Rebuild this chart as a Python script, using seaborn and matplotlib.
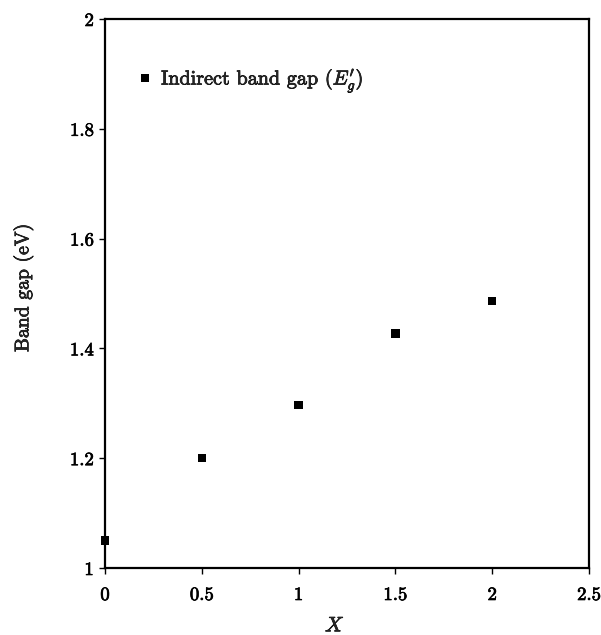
import matplotlib
matplotlib.use("Agg")
import matplotlib.pyplot as plt
import matplotlib.patheffects as pe
import seaborn as sns
import pandas as pd

# Composition and indirect band gap values
x_vals = [0.0, 0.5, 1.0, 1.5, 2.0]
gap_vals = [1.05, 1.20, 1.297, 1.427, 1.486]
series_label = r"Indirect band gap ($E_g'$)"

x_ticks = [0, 0.5, 1, 1.5, 2, 2.5]
x_tick_labels = ["0", "0.5", "1", "1.5", "2", "2.5"]
y_ticks = [1, 1.2, 1.4, 1.6, 1.8, 2]
y_tick_labels = ["1", "1.2", "1.4", "1.6", "1.8", "2"]

df = pd.DataFrame({"X": x_vals, "gap": gap_vals, "series": series_label})

sns.set_theme(style="ticks")
plt.rcParams["font.family"] = ["cmr10", "DejaVu Serif"]
plt.rcParams["mathtext.fontset"] = "cm"
plt.rcParams["axes.formatter.use_mathtext"] = True

# slightly heavier strokes on the Computer Modern glyphs
heavy = [pe.withStroke(linewidth=0.5, foreground="black")]

fig = plt.figure(figsize=(6.01, 6.35), dpi=100)
ax = fig.add_axes([105 / 601, 1 - 568 / 635, (589 - 105) / 601, (568 - 19) / 635])

sns.scatterplot(data=df, x="X", y="gap", hue="series", palette=["black"],
                marker="s", s=36, edgecolor="black", linewidth=0, ax=ax,
                clip_on=False, zorder=5)

ax.set_xlim(0, 2.5)
ax.set_ylim(1, 2)
ax.set_xticks(x_ticks)
ax.set_xticklabels(x_tick_labels)
ax.set_yticks(y_ticks)
ax.set_yticklabels(y_tick_labels)
ax.tick_params(direction="out", length=4, width=1, labelsize=13.5, colors="black")
ax.tick_params(axis="x", pad=9)
ax.tick_params(axis="y", pad=4)
for lab in ax.get_xticklabels() + ax.get_yticklabels():
    lab.set_path_effects(heavy)
for side in ax.spines.values():
    side.set_linewidth(1.6)
    side.set_color("black")

ax.set_xlabel(r"$X$", fontsize=15, path_effects=heavy)
ax.xaxis.set_label_coords(0.475, -0.09)
ax.set_ylabel("Band gap (eV)", fontsize=14.2, path_effects=heavy)
ax.yaxis.set_label_coords(-0.148, 0.51)

leg = ax.legend(loc="center left", bbox_to_anchor=(0.045, 0.888), frameon=False,
                fontsize=14.5, handletextpad=0.3, borderaxespad=0.0,
                handlelength=1.0, markerscale=1.0)
for t in leg.get_texts():
    t.set_path_effects(heavy)

fig.savefig("out.png", dpi=100, facecolor="white")
